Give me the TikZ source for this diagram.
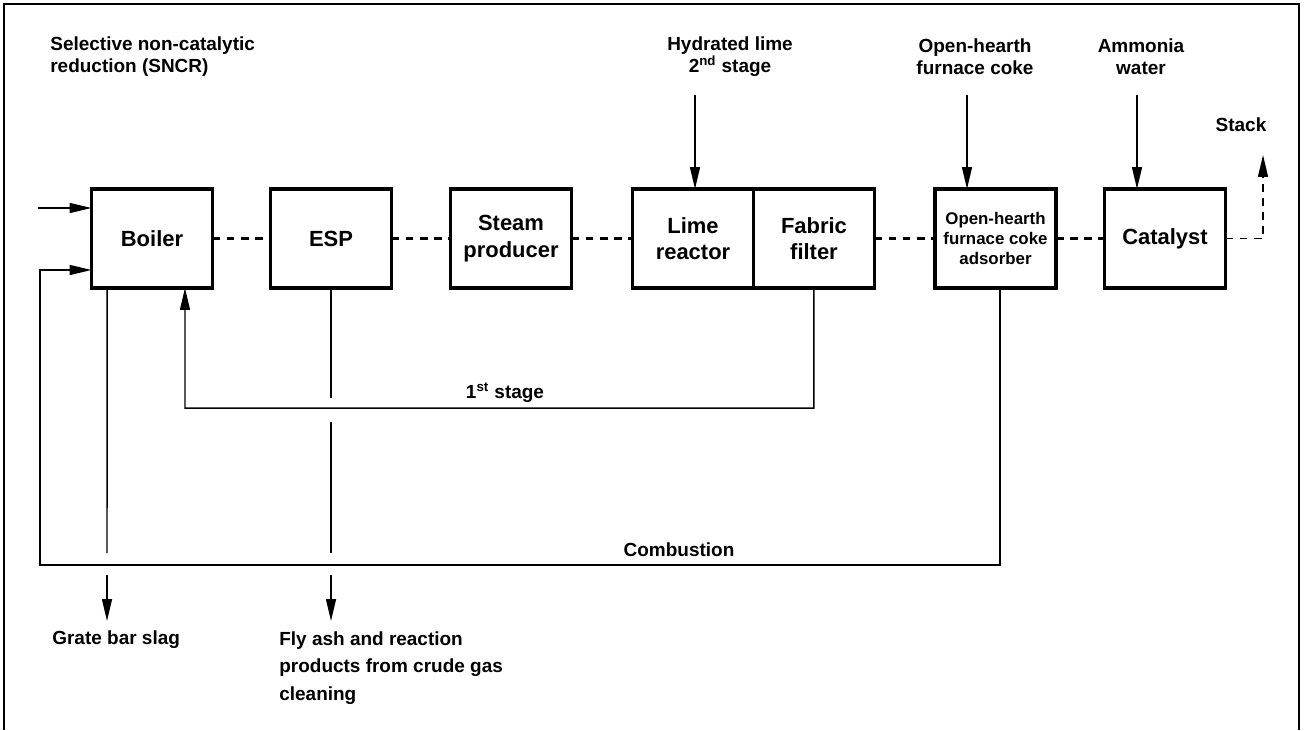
\documentclass[tikz,border=0pt]{standalone}
\usepackage{fontspec}
\setmainfont{Liberation Sans}
\usetikzlibrary{arrows.meta}

\tikzset{
  unit/.style={draw, line width=2.2pt, minimum width=2.42cm, minimum height=1.98cm,
    align=center, inner sep=1pt, outer sep=0pt, font=\bfseries\fontsize{12.5}{15}\selectfont},
  smallunit/.style={unit, font=\bfseries\fontsize{9.6}{11.4}\selectfont},
  lbl/.style={align=left, inner sep=0pt, font=\bfseries\fontsize{10.8}{12.5}\selectfont},
  lowlbl/.style={lbl, font=\bfseries\fontsize{10.8}{15.6}\selectfont},
  line/.style={line width=0.85pt},
  tip/.style={-{Triangle[length=0.44cm,width=0.2cm]}},
  arr/.style={line, tip},
  gas/.style={line width=1.5pt, dash pattern=on 4.5pt off 3.5pt},
}

\begin{document}
\begin{tikzpicture}[x=0.02cm, y=-0.02cm]
    \useasboundingbox (0,0) rectangle (1304,730);
    \draw[line width=1.1pt] (4,730) -- (4,4) -- (1299,4) -- (1299,730);

    % units of the flue gas line
    \node (boiler) at (152, 238.5) [unit] {Boiler};
    \node (esp) at (331, 238.5) [unit] {ESP};
    \node (steam) at (511, 238.5) [unit] {Steam\\producer};
    \node (lime) at (693, 238.5) [unit] {Lime\\reactor};
    \node (fabric) at (lime.east) [unit, anchor=west] {Fabric\\filter};
    \node (ohc) at (995.5, 238.5) [smallunit] {Open-hearth\\furnace coke\\adsorber};
    \node (catalyst) at (1165, 238.5) [unit] {Catalyst};

    \draw[gas] (boiler) -- (esp);
    \draw[gas] (esp) -- (steam);
    \draw[gas] (steam) -- (lime);
    \draw[gas] (fabric) -- (ohc);
    \draw[gas] (ohc) -- (catalyst);

    % labels
    \node (sncr) at (50, 57) [lbl, anchor=west] {Selective non-catalytic\\reduction (SNCR)};
    \node (hydlime) at (730, 57) [lbl, align=center] {Hydrated lime\\2\textsuperscript{nd} stage};
    \node (coke) at (975, 57) [lbl, align=center] {Open-hearth\\furnace coke};
    \node (ammonia) at (1141, 57) [lbl, align=center] {Ammonia\\water};
    \node (stack) at (1241, 125) [lbl] {Stack};
    \node (stage1) at (505, 393) [lbl] {1\textsuperscript{st} stage};
    \node (combustion) at (679, 550) [lbl] {Combustion};
    \node (slag) at (52, 640) [lbl, anchor=west] {Grate bar slag};
    \node (flyash) at (279, 668) [lowlbl, anchor=west] {Fly ash and reaction\\products from crude gas\\cleaning};

    % inputs from above and left
    \coordinate (limein) at (695, 95);
    \coordinate (cokein) at (967, 95);
    \coordinate (ammoin) at (1137, 95);
    \coordinate (sncrin) at (38, 208);
    \draw[arr] (limein) -- (limein |- lime.north);
    \draw[arr] (cokein) -- (cokein |- ohc.north);
    \draw[arr] (ammoin) -- (ammoin |- catalyst.north);
    \draw[arr] (sncrin) -- (sncrin -| boiler.west);

    % stack
    \coordinate (stacktop) at (1263, 155);
    \draw[line width=0.85pt, dash pattern=on 4.5pt off 3.5pt, tip] (catalyst) -| (stacktop);

    % 1st stage return
    \coordinate (recyc) at (185, 408);
    \draw[arr] (fabric.south) |- (recyc) -- ([xshift=0.66cm]boiler.south);

    % combustion return
    \coordinate (combl) at (40, 565);
    \draw[arr] ([xshift=0.09cm]ohc.south) |- (combl) |- ([yshift=-0.63cm]boiler.west);

    % residues
    \coordinate (slag1) at (107, 553);
    \coordinate (slag2) at (107, 575);
    \coordinate (slag3) at (107, 621);
    \draw[line] ([xshift=-0.9cm]boiler.south) -- (slag1);
    \draw[arr] (slag2) -- (slag3);

    \coordinate (esp1) at (331, 398);
    \coordinate (esp2) at (331, 422);
    \coordinate (esp3) at (331, 553);
    \coordinate (esp4) at (331, 575);
    \coordinate (esp5) at (331, 621);
    \draw[line] (esp.south) -- (esp1);
    \draw[line] (esp2) -- (esp3);
    \draw[arr] (esp4) -- (esp5);

\end{tikzpicture}
\end{document}
